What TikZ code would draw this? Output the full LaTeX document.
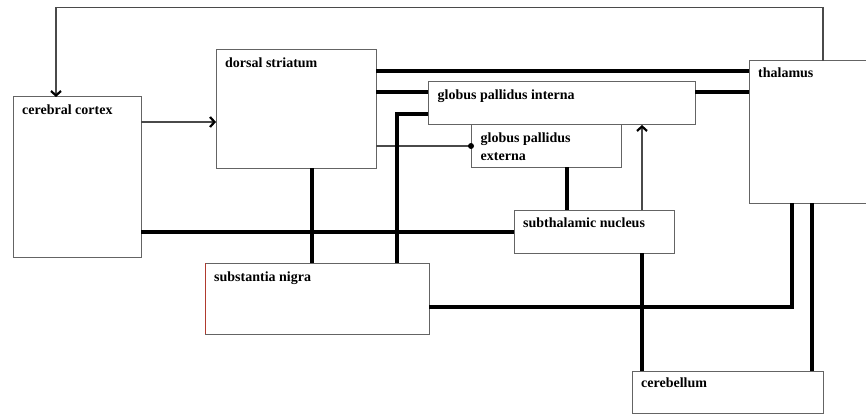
\documentclass[tikz,border=0pt]{standalone}
\usepackage{fontspec}
\setmainfont{Liberation Serif}
\usetikzlibrary{arrows.meta}
\definecolor{edgegray}{HTML}{646464}
\definecolor{wiregray}{HTML}{4A4A4A}
\definecolor{nigrared}{HTML}{B03A2E}
\begin{document}
\begin{tikzpicture}[x=1pt,y=-1pt,
  region/.style={draw=edgegray,line width=1pt,fill=white,anchor=north west,
    inner sep=0pt,outer sep=0pt},
  name tag/.style={anchor=base west,inner sep=0pt,align=left,
    font=\fontsize{14}{18}\selectfont\bfseries},
  tract/.style={line width=4.6pt,line cap=butt},
  fiber/.style={draw=wiregray,line width=1.1pt},
  barb/.style={-{Straight Barb[length=4.5pt,width=10pt,line width=2.2pt,color=black]}},
]
\useasboundingbox[fill=white] (0,0) rectangle (866,414);

% brain regions
\node[region,minimum width=128pt,minimum height=160pt] (cc)  at (13,97)  {};
\node[region,minimum width=160pt,minimum height=118pt] (ds)  at (216,50) {};
\node[region,minimum width=267pt,minimum height=43pt]  (gpi) at (428,82) {};
\node[region,minimum width=150pt,minimum height=42pt]  (gpe) at (471,125) {};
\node[region,minimum width=140pt,minimum height=142pt] (th)  at (749,61) {};
\node[region,minimum width=160pt,minimum height=43pt]  (stn) at (514,210) {};
\node[region,minimum width=224pt,minimum height=71pt]  (sn)  at (205,263) {};
\node[region,minimum width=191pt,minimum height=42pt]  (cb)  at (632,371) {};
\draw[nigrared,line width=1pt] (sn.north west) -- (sn.south west);

% region names (base anchor sits on the last line of a two-line name)
\node[name tag] (ccT)  at ([xshift=9pt,yshift=-17.5pt]cc.north west)  {cerebral cortex};
\node[name tag] (dsT)  at ([xshift=9pt,yshift=-17.5pt]ds.north west)  {dorsal striatum};
\node[name tag] (gpiT) at ([xshift=9.5pt,yshift=-18pt]gpi.north west) {globus pallidus interna};
\node[name tag] (gpeT) at ([xshift=9.5pt,yshift=-35.5pt]gpe.north west) {globus pallidus\\externa};
\node[name tag] (thT)  at ([xshift=9pt,yshift=-17pt]th.north west)  {thalamus};
\node[name tag] (stnT) at ([xshift=9pt,yshift=-17.5pt]stn.north west) {subthalamic nucleus};
\node[name tag] (snT)  at ([xshift=9pt,yshift=-18pt]sn.north west)  {substantia nigra};
\node[name tag] (cbT)  at ([xshift=9pt,yshift=-16.5pt]cb.north west)  {cerebellum};

% thin connections
\coordinate (loop) at (440,7.5);
\draw[fiber,barb] (th.north -| 823,0) |- (loop) -| (cc.north -| 56,0);
\draw[fiber,barb] (cc.east |- 0,122) -- (ds.west |- 0,122);
\draw[fiber] (ds.east |- 0,146) -- (gpe.west |- 0,146);
\fill[black] (gpe.west |- 0,146) circle (3pt);
\draw[fiber,barb] (stn.north -| 642,0) -- (gpi.south -| 642,0);

% thick connections
\draw[tract] (ds.east |- 0,71) -- (th.west |- 0,71);
\draw[tract] (ds.east |- 0,92) -- (gpi.west |- 0,92);
\draw[tract] (gpi.east |- 0,92) -- (th.west |- 0,92);
\draw[tract] (sn.north -| 397,0) |- (gpi.west |- 0,114);
\draw[tract] (ds.south -| 312,0) -- (sn.north -| 312,0);
\draw[tract] (cc.east |- 0,232) -- (stn.west |- 0,232);
\draw[tract] (gpe.south -| 567,0) -- (stn.north -| 567,0);
\draw[tract] (stn.south -| 642,0) -- (cb.north -| 642,0);
\draw[tract] (sn.east |- 0,307) -| (th.south -| 792,0);
\draw[tract] (th.south -| 812,0) -- (cb.north -| 812,0);
\end{tikzpicture}
\end{document}
